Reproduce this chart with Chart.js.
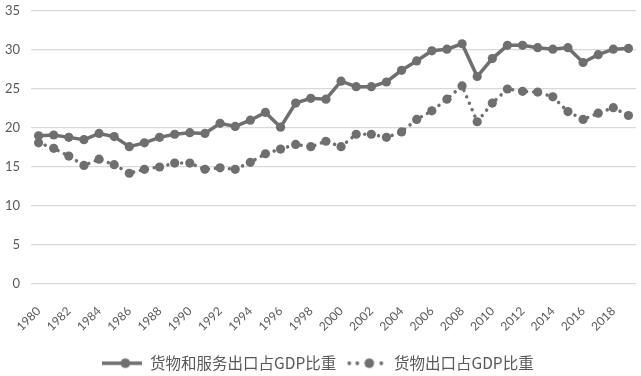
<!DOCTYPE html>
<html>
<head>
<meta charset="utf-8">
<script src="https://cdn.jsdelivr.net/npm/chart.js@4/dist/chart.umd.min.js"></script>
<style>
  html, body { margin: 0; padding: 0; background: #fff; }
  #wrap { width: 641px; height: 376px; }
</style>
</head>
<body>
<div id="wrap"><canvas id="myChart" width="641" height="376"></canvas></div>
<script>
// anos 1980-2019
var years = [];
for (var y = 1980; y <= 2019; y++) years.push(String(y));

// 货物和服务出口占GDP比重 (%)
var exportGS = [
  19.0, 19.1, 18.8, 18.5, 19.3, 18.9, 17.6, 18.1, 18.8, 19.2,
  19.4, 19.3, 20.6, 20.2, 21.0, 22.0, 20.1, 23.2, 23.8, 23.7,
  26.0, 25.3, 25.3, 25.9, 27.4, 28.6, 29.9, 30.1, 30.8, 26.6,
  28.9, 30.6, 30.6, 30.3, 30.1, 30.3, 28.4, 29.4, 30.1, 30.2
];

// 货物出口占GDP比重 (%)
var exportG = [
  18.1, 17.4, 16.4, 15.2, 16.0, 15.3, 14.2, 14.7, 15.0, 15.5,
  15.5, 14.7, 14.9, 14.7, 15.6, 16.7, 17.3, 17.9, 17.6, 18.3,
  17.6, 19.2, 19.2, 18.8, 19.5, 21.1, 22.2, 23.7, 25.4, 20.8,
  23.2, 25.0, 24.7, 24.6, 24.0, 22.1, 21.1, 21.9, 22.6, 21.6
];

var yTicks = [0, 5, 10, 15, 20, 25, 30, 35];

var cor = '#6f6f6f';
var corTexto = '#595959';

// amostras da legenda (linha + ponto)
function amostra(pontilhada) {
  var c = document.createElement('canvas');
  c.width = 40; c.height = 12;
  var g = c.getContext('2d');
  g.fillStyle = cor;
  g.strokeStyle = cor;
  if (!pontilhada) {
    g.lineWidth = 3.5;
    g.beginPath(); g.moveTo(0, 6); g.lineTo(40, 6); g.stroke();
  } else {
    [3, 11, 35].forEach(function (px) {
      g.beginPath(); g.arc(px, 6, 1.9, 0, Math.PI * 2); g.fill();
    });
  }
  g.beginPath(); g.arc(23, 6, 4.8, 0, Math.PI * 2); g.fill();
  return c;
}
var amostras = [amostra(false), amostra(true)];

var ctx = document.getElementById('myChart').getContext('2d');

var config = {
  type: 'line',
  data: {
    labels: years,
    datasets: [
      {
        label: '货物和服务出口占GDP比重',
        data: exportGS,
        borderColor: cor,
        backgroundColor: cor,
        borderWidth: 3.5,
        pointRadius: 4.6,
        pointBorderWidth: 0,
        pointBackgroundColor: cor,
        tension: 0
      },
      {
        label: '货物出口占GDP比重',
        data: exportG,
        borderColor: cor,
        backgroundColor: cor,
        borderWidth: 3.5,
        borderDash: [0.01, 7],
        borderCapStyle: 'round',
        pointRadius: 4.6,
        pointBorderWidth: 0,
        pointBackgroundColor: cor,
        tension: 0
      }
    ]
  },
  options: {
    responsive: false,
    animation: false,
    layout: { padding: { left: 0, right: 5, top: 11, bottom: -5 } },
    plugins: {
      tooltip: { enabled: false },
      legend: {
        position: 'bottom',
        labels: {
          usePointStyle: true,
          pointStyleWidth: 40,
          padding: 10,
          color: corTexto,
          font: { family: '"Noto Sans CJK SC", sans-serif', size: 15.5 },
          generateLabels: function (chart) {
            return chart.data.datasets.map(function (ds, i) {
              return {
                text: ds.label,
                fontColor: corTexto,
                pointStyle: amostras[i],
                hidden: false,
                datasetIndex: i,
                lineWidth: 0,
                strokeStyle: cor,
                fillStyle: cor
              };
            });
          }
        }
      }
    },
    scales: {
      x: {
        offset: true,
        grid: { display: false },
        border: { display: false },
        afterFit: function (s) {
          s.height = 61.5;
          s.paddingLeft = 0;
          s.paddingRight = 0;
        },
        ticks: {
          autoSkip: false,
          minRotation: 45,
          maxRotation: 45,
          padding: 12,
          color: corTexto,
          font: { family: 'Lato, sans-serif', size: 12 },
          callback: function (value, index) {
            return index % 2 === 0 ? years[index] : '';
          }
        }
      },
      y: {
        min: 0,
        max: 35,
        afterBuildTicks: function (axis) {
          axis.ticks = yTicks.map(function (v) { return { value: v }; });
        },
        afterFit: function (s) {
          s.width = 31;
          s.paddingTop = 0;
          s.paddingBottom = 0;
        },
        grid: { color: '#d9d9d9', lineWidth: 1.2, drawTicks: false },
        border: { display: false },
        ticks: {
          padding: 11,
          color: corTexto,
          font: { family: 'Lato, sans-serif', size: 13 }
        }
      }
    }
  }
};

var chart = new Chart(ctx, config);
</script>
</body>
</html>
